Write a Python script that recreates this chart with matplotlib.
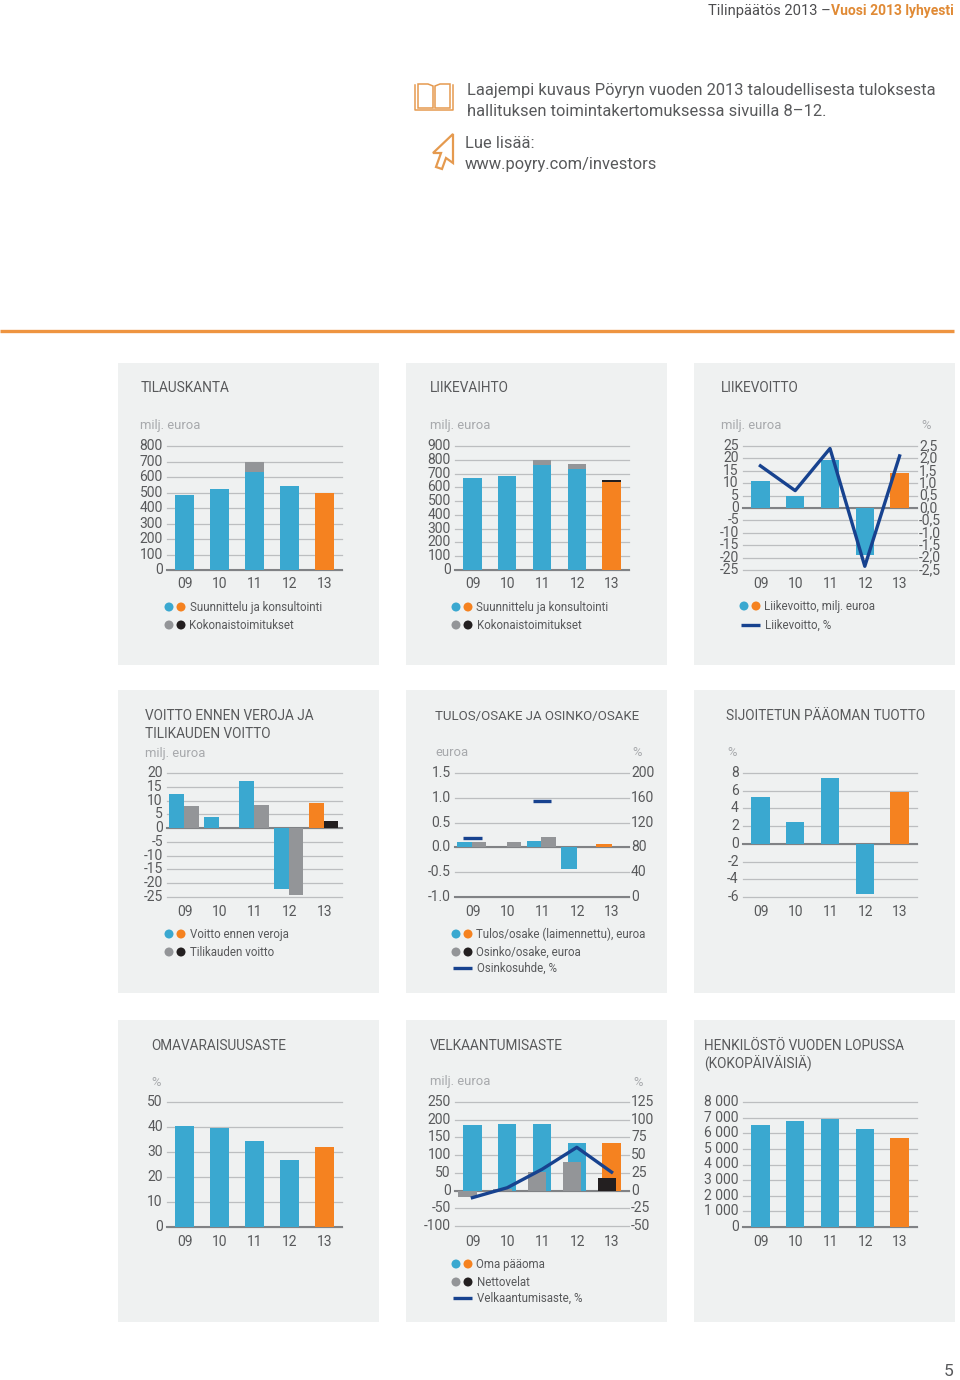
import numpy as np
import matplotlib
matplotlib.use("Agg")
import matplotlib.pyplot as plt
from matplotlib.patches import Rectangle, Polygon
from matplotlib.transforms import ScaledTranslation

plt.rcParams['font.family'] = ['Roboto', 'DejaVu Sans']

years = ["09", "10", "11", "12", "13"]

BLUE = "#3AA8D0"
ORANGE = "#F58220"
GRAY = "#939598"
BLACK = "#231F20"
NAVY = "#17428F"
PANEL = "#EFF1F1"
TXT = "#58595B"
LIGHT = "#A7A9AC"
GRID = "#BCBEC0"
AXIS = "#808285"

# tilauskanta
order_main = [485, 525, 635, 545, 500]
order_total = [485, 525, 695, 545, 500]
order_ticks = [0, 100, 200, 300, 400, 500, 600, 700, 800]

# liikevaihto
sales_main = [670, 680, 760, 735, 640]
sales_total = [670, 680, 795, 770, 650]
sales_ticks = [0, 100, 200, 300, 400, 500, 600, 700, 800, 900]

# liikevoitto
ebit = [11, 5, 19.5, -19, 14]
ebit_pct = [1.7, 0.7, 2.4, -2.35, 2.1]
ebit_ticks = [-25, -20, -15, -10, -5, 0, 5, 10, 15, 20, 25]
ebit_pct_pos = [-2.5, -2, -1.5, -1, -0.5, 0, 0.5, 1, 1.5, 2, 2.5]
ebit_pct_ticks = ["-2,5", "-2,0", "-1,5", "-1,0", "-0,5", "0,0", "0,5", "1,0", "1,5", "2,0", "2,5"]

# voitto ennen veroja / tilikauden voitto
pbt = [12.3, 4.2, 17, -22, 9]
net = [8, 0.2, 8.5, -24.3, 2.5]
pbt_ticks = [-25, -20, -15, -10, -5, 0, 5, 10, 15, 20]

# tulos/osake
eps = [0.10, 0.0, 0.13, -0.43, 0.06]
dps = [0.10, 0.10, 0.20, 0.0, 0.0]
payout = [95, np.nan, 155, np.nan, np.nan]
eps_ticks = [-1.0, -0.5, 0.0, 0.5, 1.0, 1.5]
eps_labels = ["-1.0", "-0.5", "0.0", "0.5", "1.0", "1.5"]
payout_ticks = [0, 40, 80, 120, 160, 200]

# sijoitetun paaoman tuotto
roce = [5.3, 2.5, 7.4, -5.7, 5.8]
roce_ticks = [-6, -4, -2, 0, 2, 4, 6, 8]

# omavaraisuusaste
equity_ratio = [40.6, 39.8, 34.5, 26.9, 32.2]
equity_ratio_ticks = [0, 10, 20, 30, 40, 50]

# velkaantumisaste
equity = [185, 188, 188, 133, 133]
net_debt = [-18, 5, 52, 80, 35]
gearing = [-10, 4, 30, 61, 26]
gearing_left = [-100, -50, 0, 50, 100, 150, 200, 250]
gearing_right = [-50, -25, 0, 25, 50, 75, 100, 125]

# henkilosto
staff = [6500, 6780, 6930, 6290, 5690]
staff_ticks = [0, 1000, 2000, 3000, 4000, 5000, 6000, 7000, 8000]
staff_labels = ["0", "1 000", "2 000", "3 000", "4 000", "5 000", "6 000", "7 000", "8 000"]


W, H = 960, 1380
fig = plt.figure(figsize=(W / 100, H / 100), dpi=100, facecolor="white")

page = fig.add_axes([0, 0, 1, 1])
page.set_xlim(0, W)
page.set_ylim(H, 0)
page.axis("off")

# y-tickit hieman viivan ylapuolelle
label_shift = ScaledTranslation(0, 1.5 / 100, fig.dpi_scale_trans)

TITLE = 9.8
UNIT = 9.4
LEG = 8.3
BODY = 11.85


def txt(x, y, s, size=9.6, color=TXT, **kw):
    kw.setdefault("va", "center")
    page.text(x, y, s, fontsize=size, color=color, **kw)


def make_axes(x0, x1, ytop, ybot, ylim):
    ax = fig.add_axes([x0 / W, 1 - ybot / H, (x1 - x0) / W, (ybot - ytop) / H])
    ax.set_xlim(-0.5, 4.5)
    ax.set_ylim(*ylim)
    ax.patch.set_alpha(0)
    for s in ax.spines.values():
        s.set_visible(False)
    ax.tick_params(length=0)
    ax.set_axisbelow(True)
    return ax


def style_axis(ax, ticks, labels=None, zero=0.0):
    ax.set_yticks(ticks)
    ax.set_yticklabels(labels if labels else [str(t) for t in ticks],
                       fontsize=10, color=TXT)
    ax.tick_params(axis="y", pad=3)
    ax.grid(axis="y", color=GRID, lw=0.9)
    for gl in ax.get_ygridlines():
        gl.set_clip_on(False)
    ax.axhline(zero, color=AXIS, lw=1.5, zorder=1.5, clip_on=False)
    ax.set_xticks([])
    for lab in ax.get_yticklabels():
        lab.set_transform(lab.get_transform() + label_shift)


def right_axis(ax, ticks, labels):
    ax2 = ax.twinx()
    ax2.set_ylim(ticks[0], ticks[-1])
    for s in ax2.spines.values():
        s.set_visible(False)
    ax2.set_yticks(ticks)
    ax2.set_yticklabels(labels, fontsize=10, color=TXT)
    ax2.tick_params(length=0, pad=1.5)
    ax2.patch.set_alpha(0)
    for lab in ax2.get_yticklabels():
        lab.set_transform(lab.get_transform() + label_shift)
    return ax2


def place_years(ax, y_px):
    # vuosiluvut omaan kohtaansa, ei riipu akselin alareunasta
    for i, y in enumerate(years):
        xp = ax.transData.transform((i, 0))[0]
        page.text(xp + 0.5, y_px + 0.5, y, fontsize=10, color=TXT, ha="center", va="center")


def bar_colors(c, last):
    return [c] * 4 + [last]


def legend_dots(x, y, c1, c2, label):
    page.scatter([x, x + 12], [y, y], s=42, c=[c1, c2], linewidths=0)
    txt(x + 20.5, y + 0.5, label, size=LEG)


def legend_line(x, y, label):
    page.plot([x, x + 19], [y, y], color=NAVY, lw=2.4, solid_capstyle="butt")
    txt(x + 24, y + 0.5, label, size=LEG)


# sivun ylaosa
txt(708, 10.5, "Tilinpäätös 2013 –", size=10.6, color="#4D4D4F")
txt(831, 10.5, "Vuosi 2013 lyhyesti", size=10.0, color="#E08A35", fontweight="bold")
txt(467, 90, "Laajempi kuvaus Pöyryn vuoden 2013 taloudellisesta tuloksesta", size=BODY)
txt(467, 111, "hallituksen toimintakertomuksessa sivuilla 8–12.", size=BODY)
txt(465, 143.5, "Lue lisää:", size=BODY)
txt(465, 164.5, "www.poyry.com/investors", size=BODY)

# kirja
ICON = "#E59A4F"
page.add_patch(Polygon([(418, 84), (428, 84), (433, 86), (433, 108), (418, 108)],
                       closed=True, fc="none", ec=ICON, lw=1.1))
page.add_patch(Polygon([(450, 84), (440, 84), (435, 86), (435, 108), (450, 108)],
                       closed=True, fc="none", ec=ICON, lw=1.1))
page.plot([415, 415, 453, 453], [85, 110, 110, 85], color=ICON, lw=1.1)
# kursori
page.add_patch(Polygon([(453, 134), (433, 153), (441, 153), (436, 167), (442, 169),
                        (446, 158), (453, 163)], closed=True, fc="none", ec=ICON, lw=1.6))

page.plot([0, 954], [330.5, 330.5], color="#EE9440", lw=2.4, solid_capstyle="butt")
txt(949, 1371, "5", size=12.5, ha="center")

# paneelit
for py0, py1 in [(363, 665), (690, 993), (1020, 1322)]:
    for px0 in [118, 406, 694]:
        page.add_patch(Rectangle((px0, py0), 261, py1 - py0, fc=PANEL, ec="none", zorder=0))

xs = np.arange(5)

# --- rivi 1 ---
txt(140.5, 388.5, "TILAUSKANTA", size=TITLE)
txt(140.5, 425.5, "milj. euroa", color=LIGHT, size=UNIT)
ax = make_axes(167, 342, 446, 570, (0, 800))
style_axis(ax, order_ticks)
ax.bar(xs, order_total, 0.53, color=GRAY, zorder=2)
ax.bar(xs, order_main, 0.53, color=bar_colors(BLUE, ORANGE), zorder=2.1)
place_years(ax, 584)
legend_dots(169, 607, BLUE, ORANGE, "Suunnittelu ja konsultointi")
legend_dots(169, 625, GRAY, BLACK, "Kokonaistoimitukset")

txt(430, 388.5, "LIIKEVAIHTO", size=TITLE)
txt(430, 425.5, "milj. euroa", color=LIGHT, size=UNIT)
ax = make_axes(455, 629, 446, 570, (0, 900))
style_axis(ax, sales_ticks)
ax.bar(xs, sales_total, 0.53, color=bar_colors(GRAY, BLACK), zorder=2)
ax.bar(xs, sales_main, 0.53, color=bar_colors(BLUE, ORANGE), zorder=2.1)
place_years(ax, 584)
legend_dots(456, 607, BLUE, ORANGE, "Suunnittelu ja konsultointi")
legend_dots(456, 625, GRAY, BLACK, "Kokonaistoimitukset")

txt(721, 388.5, "LIIKEVOITTO", size=TITLE)
txt(721, 425.5, "milj. euroa", color=LIGHT, size=UNIT)
txt(921, 425.5, "%", color=LIGHT, size=UNIT)
ax = make_axes(743, 917, 446, 570, (-25, 25))
style_axis(ax, ebit_ticks)
ax.bar(xs, ebit, 0.53, color=bar_colors(BLUE, ORANGE), zorder=2)
ax2 = right_axis(ax, ebit_pct_pos, ebit_pct_ticks)
ax2.plot(xs, ebit_pct, color=NAVY, lw=2.4, zorder=5)
place_years(ax, 584)
legend_dots(744, 606, BLUE, ORANGE, "Liikevoitto, milj. euroa")
legend_line(741, 625, "Liikevoitto, %")

# --- rivi 2 ---
txt(145, 716.5, "VOITTO ENNEN VEROJA JA", size=TITLE)
txt(145, 733.5, "TILIKAUDEN VOITTO", size=TITLE)
txt(145, 753, "milj. euroa", color=LIGHT, size=UNIT)
ax = make_axes(167, 342, 773, 897, (-25, 20))
style_axis(ax, pbt_ticks)
ax.bar(xs + 0.19, net, 0.42, color=bar_colors(GRAY, BLACK), zorder=2)
ax.bar(xs - 0.22, pbt, 0.43, color=bar_colors(BLUE, ORANGE), zorder=2.1)
place_years(ax, 911)
legend_dots(169, 934, BLUE, ORANGE, "Voitto ennen veroja")
legend_dots(169, 952, GRAY, BLACK, "Tilikauden voitto")

txt(435, 716.5, "TULOS/OSAKE JA OSINKO/OSAKE", size=9.5)
txt(435, 753, "euroa", color=LIGHT, size=UNIT)
txt(632, 753, "%", color=LIGHT, size=UNIT)
ax = make_axes(455, 629, 773, 897, (-1.0, 1.5))
style_axis(ax, eps_ticks, eps_labels)
ax.axhline(-1.0, color=AXIS, lw=1.5, zorder=1.5, clip_on=False)
ax.bar(xs + 0.19, dps, 0.42, color=bar_colors(GRAY, BLACK), zorder=2)
ax.bar(xs - 0.22, eps, 0.45, color=bar_colors(BLUE, ORANGE), zorder=1.9)
ax2 = right_axis(ax, payout_ticks, [str(t) for t in payout_ticks])
ax2.hlines(payout, xs - 0.27, xs + 0.27, color=NAVY, lw=2.4, zorder=5)
place_years(ax, 911)
legend_dots(456, 934, BLUE, ORANGE, "Tulos/osake (laimennettu), euroa")
legend_dots(456, 952, GRAY, BLACK, "Osinko/osake, euroa")
legend_line(453, 968, "Osinkosuhde, %")

txt(726, 716.5, "SIJOITETUN PÄÄOMAN TUOTTO", size=TITLE)
txt(727, 753, "%", color=LIGHT, size=UNIT)
ax = make_axes(743, 917, 773, 897, (-6, 8))
style_axis(ax, roce_ticks)
ax.bar(xs, roce, 0.53, color=bar_colors(BLUE, ORANGE), zorder=2)
place_years(ax, 911)

# --- rivi 3 ---
txt(151, 1045.5, "OMAVARAISUUSASTE", size=TITLE)
txt(151, 1082, "%", color=LIGHT, size=UNIT)
ax = make_axes(167, 342, 1102, 1227, (0, 50))
style_axis(ax, equity_ratio_ticks)
ax.bar(xs, equity_ratio, 0.53, color=bar_colors(BLUE, ORANGE), zorder=2)
place_years(ax, 1241)

txt(430, 1045.5, "VELKAANTUMISASTE", size=TITLE)
txt(430, 1082, "milj. euroa", color=LIGHT, size=UNIT)
txt(633, 1082, "%", color=LIGHT, size=UNIT)
ax = make_axes(455, 629, 1102, 1226, (-100, 250))
style_axis(ax, gearing_left)
ax.bar(xs, equity, 0.53, color=bar_colors(BLUE, ORANGE), zorder=2)
ax.bar(xs - 0.14, net_debt, 0.53, color=bar_colors(GRAY, BLACK), zorder=2.1)
ax2 = right_axis(ax, gearing_right, [str(t) for t in gearing_right])
ax2.plot(xs, gearing, color=NAVY, lw=2.4, zorder=5)
place_years(ax, 1241)
legend_dots(456, 1264, BLUE, ORANGE, "Oma pääoma")
legend_dots(456, 1282, GRAY, BLACK, "Nettovelat")
legend_line(453, 1298, "Velkaantumisaste, %")

txt(704, 1045.5, "HENKILÖSTÖ VUODEN LOPUSSA", size=TITLE)
txt(704, 1063.5, "(KOKOPÄIVÄISIÄ)", size=TITLE)
ax = make_axes(743, 917, 1102, 1227, (0, 8000))
style_axis(ax, staff_ticks, staff_labels)
ax.bar(xs, staff, 0.53, color=bar_colors(BLUE, ORANGE), zorder=2)
place_years(ax, 1241)

fig.savefig("out.png", dpi=100)
